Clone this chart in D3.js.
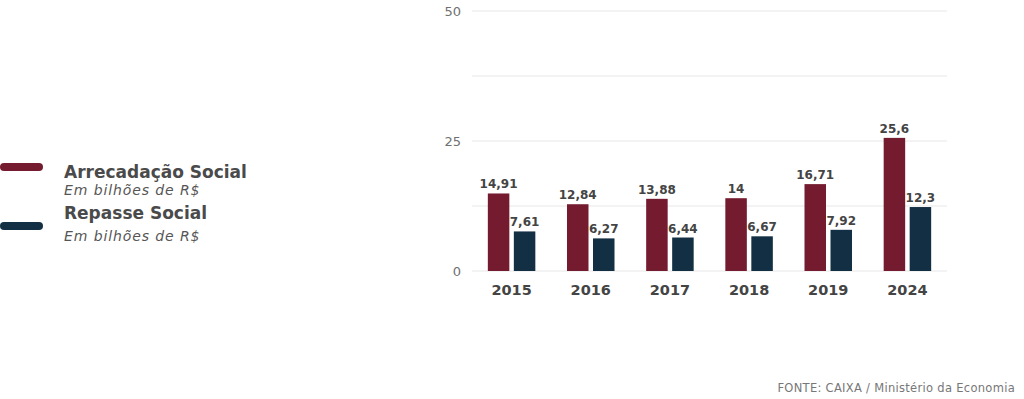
<!DOCTYPE html>
<html>
<head>
<meta charset="utf-8">
<script src="https://cdn.jsdelivr.net/npm/d3@7"></script>
<style>
    body { margin: 0; background: #fff; }
    svg { display: block; font-family: "DejaVu Sans", sans-serif; }
</style>
</head>
<body>
<svg id="grafico" width="1024" height="399"></svg>
<script>

//DADOS

var anos = ["2015", "2016", "2017", "2018", "2019", "2024"];
var arrecadacao = [14.91, 12.84, 13.88, 14, 16.71, 25.6];
var repasse = [7.61, 6.27, 6.44, 6.67, 7.92, 12.3];
var ticksY = [0, 25, 50];
var linhasGrade = [0, 12.5, 25, 37.5, 50];

var series = [
    { nome: "Arrecadação Social", sub: "Em bilhões de R$", valores: arrecadacao, cor: "#741b2f" },
    { nome: "Repasse Social", sub: "Em bilhões de R$", valores: repasse, cor: "#132f43" }
];

//ESCALAS

var svg = d3.select("#grafico");

var x = d3.scaleBand()
    .domain(anos)
    .range([472, 947]);

var larguraBarra = 21.5;
var espaco = 4.5;

var y = d3.scaleLinear()
    .domain([0, 50])
    .range([271, 11]);

function formata(v){
    return String(v).replace(".", ",");
}

//GRADE

svg.append("g")
    .selectAll("line")
    .data(linhasGrade)
    .enter()
    .append("line")
    .attr("x1", 472)
    .attr("x2", 947)
    .attr("y1", d => y(d))
    .attr("y2", d => y(d))
    .attr("stroke", "#e8e8e8")
    .attr("stroke-width", 1.2);

// eixo Y so com os rotulos
var eixoY = svg.append("g")
    .attr("transform", "translate(461,0)")
    .call(d3.axisLeft(y).tickValues(ticksY).tickSize(0).tickPadding(0));

eixoY.select(".domain").remove();
eixoY.selectAll("text")
    .attr("fill", "#707070")
    .style("font-size", "13px")
    .style("font-family", "DejaVu Sans, sans-serif");

// eixo X
var eixoX = svg.append("g")
    .attr("transform", "translate(0,271)")
    .call(d3.axisBottom(x).tickSize(0).tickPadding(14));

eixoX.select(".domain").remove();
eixoX.selectAll("text")
    .attr("fill", "#444")
    .style("font-size", "14.5px")
    .style("font-weight", "bold")
    .style("font-family", "DejaVu Sans, sans-serif");

//BARRAS

series.forEach((s, k) => {

    var grupo = svg.append("g");

    var deslocamento = (k == 0) ? -(larguraBarra + espaco / 2) : espaco / 2;

    grupo.selectAll("rect")
        .data(s.valores)
        .enter()
        .append("rect")
        .attr("x", (d, i) => x(anos[i]) + x.bandwidth() / 2 + deslocamento)
        .attr("y", d => y(d))
        .attr("width", larguraBarra)
        .attr("height", d => y(0) - y(d))
        .attr("fill", s.cor);

    grupo.selectAll("text")
        .data(s.valores)
        .enter()
        .append("text")
        .attr("x", (d, i) => x(anos[i]) + x.bandwidth() / 2 + deslocamento + larguraBarra / 2)
        .attr("y", d => y(d) - 5)
        .attr("text-anchor", "middle")
        .attr("fill", "#444")
        .style("font-size", "12px")
        .style("font-weight", "bold")
        .text(d => formata(d));

});

//LEGENDA

var legenda = svg.append("g");

var posLegenda = [
    { linha: 167, titulo: 178, sub: 195 },
    { linha: 226, titulo: 219, sub: 241 }
];

series.forEach((s, k) => {

    var p = posLegenda[k];

    legenda.append("line")
        .attr("x1", 4)
        .attr("x2", 39)
        .attr("y1", p.linha)
        .attr("y2", p.linha)
        .attr("stroke", s.cor)
        .attr("stroke-width", 8)
        .attr("stroke-linecap", "round");

    legenda.append("text")
        .attr("x", 64)
        .attr("y", p.titulo)
        .attr("fill", "#4a4a4a")
        .style("font-size", "17px")
        .style("font-weight", "bold")
        .text(s.nome);

    legenda.append("text")
        .attr("x", 64)
        .attr("y", p.sub)
        .attr("fill", "#555")
        .style("font-size", "14px")
        .style("letter-spacing", "0.9px")
        .style("font-style", "italic")
        .text(s.sub);

});

//FONTE

svg.append("text")
    .attr("x", 1015)
    .attr("y", 392)
    .attr("text-anchor", "end")
    .attr("fill", "#777")
    .style("font-size", "11.5px")
    .style("letter-spacing", "0.3px")
    .text("FONTE: CAIXA / Ministério da Economia");

</script>
</body>
</html>
